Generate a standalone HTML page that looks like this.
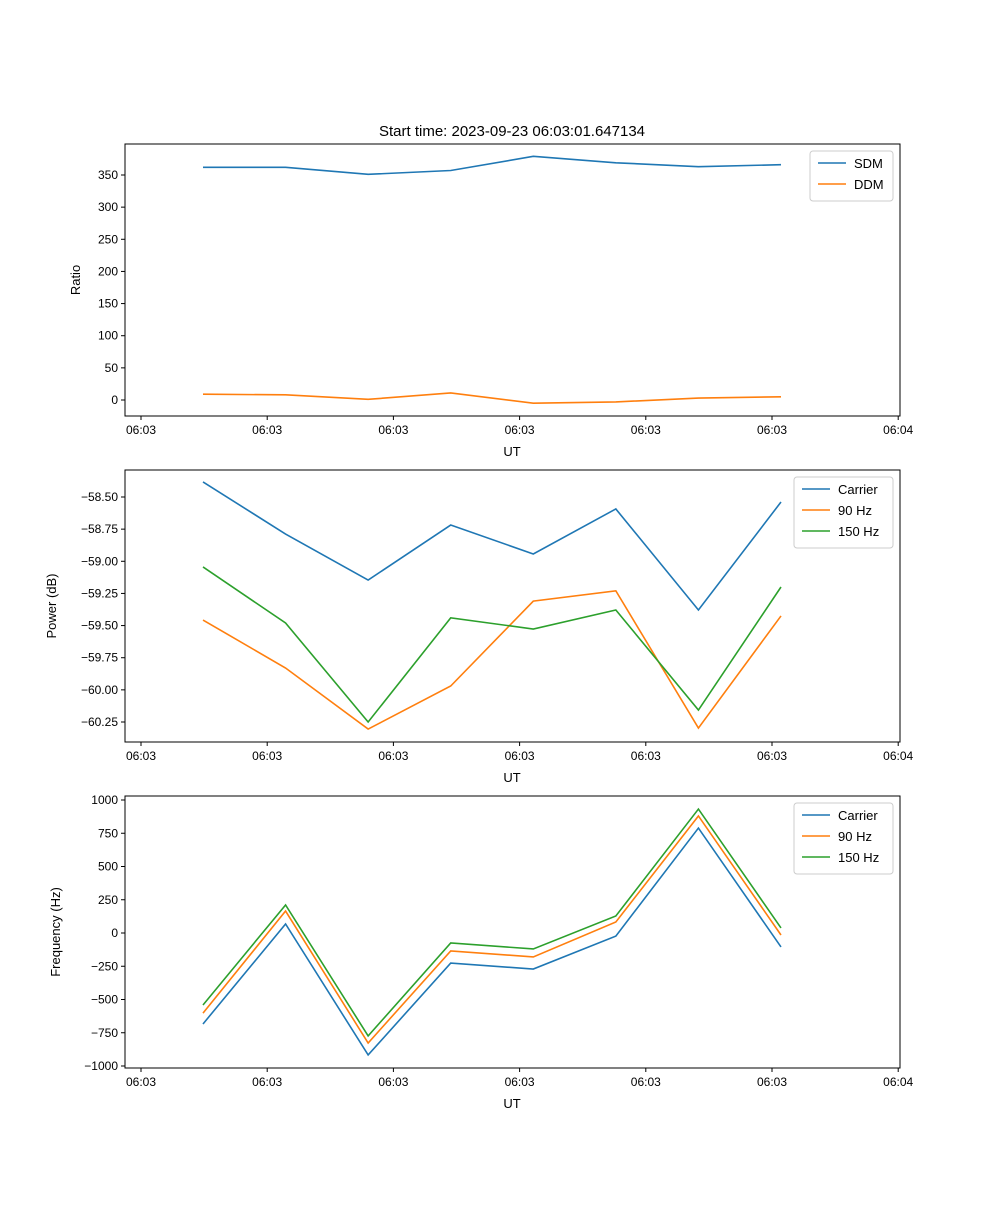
<!DOCTYPE html>
<html><head><meta charset="utf-8"><style>
body{margin:0;background:#fff;}
svg{font-family:"Liberation Sans","DejaVu Sans",sans-serif;}
</style></head><body>
<svg id="fig" width="1000" height="1200" xmlns="http://www.w3.org/2000/svg">
<text x="512" y="136" font-size="15" text-anchor="middle">Start time: 2023-09-23 06:03:01.647134</text>
</svg>
<script>
const xTickLabels = ["06:03","06:03","06:03","06:03","06:03","06:03","06:04"];
const sdm = [362,362,351,357,379,369,363,366];
const ddm = [9,8,1,11,-5,-3,3,5];
const powCarrier = [-58.383,-58.788,-59.146,-58.718,-58.943,-58.593,-59.379,-58.539];
const pow90 = [-59.457,-59.83,-60.305,-59.97,-59.31,-59.23,-60.297,-59.425];
const pow150 = [-59.044,-59.48,-60.25,-59.44,-59.527,-59.379,-60.157,-59.2];
const freqCarrier = [-684,68,-917,-226,-271,-23,789,-105];
const freq90 = [-602,165,-827,-135,-180,83,880,-15];
const freq150 = [-541,211,-774,-75,-120,128,932,38];
const ratioTicks = [0,50,100,150,200,250,300,350];
const powTicks = [-60.25,-60,-59.75,-59.5,-59.25,-59,-58.75,-58.5];
const freqTicks = [-1000,-750,-500,-250,0,250,500,750,1000];

const svg=document.getElementById('fig');
const NS='http://www.w3.org/2000/svg';
function mk(t,a){const e=document.createElementNS(NS,t);for(const k in a)e.setAttribute(k,a[k]);svg.appendChild(e);return e;}
const L=125,R=900;
const xs=i=>203+i*82.57;
const C=['#1f77b4','#ff7f0e','#2ca02c'];

function panel(top,bot,y0v,y0p,y1v,y1p,ticks,fmt,ylab,series,names,legW,pname){
  const ys=v=>y0p+(v-y0v)*(y1p-y0p)/(y1v-y0v);
  const fr=mk('rect',{x:L,y:top,width:R-L,height:bot-top,fill:'none',stroke:'#000','stroke-width':1});
  
  
  ticks.forEach(v=>{const y=ys(v);
    const tl=mk('line',{x1:L-4,x2:L,y1:y,y2:y,stroke:'#000'});
    
    
    const t=mk('text',{x:L-7,y:y+4,'font-size':12,'text-anchor':'end'});t.textContent=fmt(v);
    
    
  });
  xTickLabels.forEach((s,k)=>{const x=141+k*126.2;
    const tl=mk('line',{x1:x,x2:x,y1:bot,y2:bot+4,stroke:'#000'});
    
    
    const t=mk('text',{x:x,y:bot+18,'font-size':12,'text-anchor':'middle'});t.textContent=s;
    
    
  });
  const xl=mk('text',{x:512,y:bot+40,'font-size':13,'text-anchor':'middle'});xl.textContent='UT';
  
  
  const cy=(top+bot)/2;
  const yl=mk('text',{x:0,y:0,'font-size':13,'text-anchor':'middle',transform:`translate(${pname==='ratio'?80:pname==='power'?56:60},${cy}) rotate(-90)`});yl.textContent=ylab;
  
  
  series.forEach((d,j)=>{
    const p=mk('polyline',{points:d.map((v,i)=>xs(i)+','+ys(v)).join(' '),fill:'none',stroke:C[j],'stroke-width':1.6});
    
    
  });
  const lx=R-7-legW,ly=top+7,lh=names.length*21+8;
  const lb=mk('rect',{x:lx,y:ly,width:legW,height:lh,fill:'#fff',stroke:'#ccc',rx:3});
  
  
  names.forEach((n,j)=>{const y=ly+12+j*21;
    const ll=mk('line',{x1:lx+8,x2:lx+36,y1:y,y2:y,stroke:C[j],'stroke-width':1.6});
    
    
    const t=mk('text',{x:lx+44,y:y+5,'font-size':13});t.textContent=n;
    
    
  });
}
panel(144,416,0,400,350,175,ratioTicks,v=>String(v),'Ratio',[sdm,ddm],['SDM','DDM'],83,'ratio');
panel(470,742,-58.5,497,-60.25,722,powTicks,v=>v.toFixed(2).replace('-','\u2212'),'Power (dB)',[powCarrier,pow90,pow150],['Carrier','90 Hz','150 Hz'],99,'power');
panel(796,1068,0,933,1000,800,freqTicks,v=>String(v).replace('-','\u2212'),'Frequency (Hz)',[freqCarrier,freq90,freq150],['Carrier','90 Hz','150 Hz'],99,'frequency');
</script>
</body></html>
